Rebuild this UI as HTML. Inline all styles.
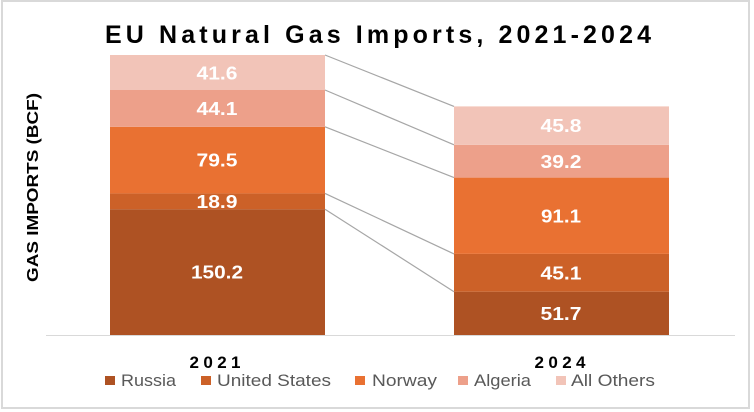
<!DOCTYPE html>
<html>
<head>
<meta charset="utf-8">
<style>
  html,body{margin:0;padding:0;background:#ffffff;}
  svg{display:block;}
  text{font-family:"Liberation Sans", Arial, sans-serif;}
</style>
</head>
<body>
<svg width="754" height="412" viewBox="0 0 754 412" xmlns="http://www.w3.org/2000/svg">
  <rect x="0" y="0" width="754" height="412" fill="#ffffff"/>
  <rect x="2" y="1" width="747" height="407" fill="#ffffff" stroke="#d9d9d9" stroke-width="2"/>

  <!-- Title -->
  <text x="105" y="43" font-size="25" font-weight="bold" fill="#000000" textLength="546" lengthAdjust="spacing">EU Natural Gas Imports, 2021-2024</text>

  <!-- Y axis label -->
  <text transform="translate(38,187.5) rotate(-90)" text-anchor="middle" font-size="15.5" font-weight="bold" fill="#000000" textLength="189" lengthAdjust="spacingAndGlyphs">GAS IMPORTS (BCF)</text>

  <!-- Connector lines -->
  <g stroke="#a6a6a6" stroke-width="1.2" fill="none">
    <line x1="325" y1="55" x2="454" y2="106.4"/>
    <line x1="325" y1="90" x2="454" y2="144.8"/>
    <line x1="325" y1="126.8" x2="454" y2="177.6"/>
    <line x1="325" y1="193.4" x2="454" y2="253.9"/>
    <line x1="325" y1="209.2" x2="454" y2="291.7"/>
  </g>

  <!-- 2021 bar -->
  <rect x="110" y="209.2" width="215" height="125.8" fill="#ae5223"/>
  <rect x="110" y="193.4" width="215" height="15.8" fill="#cc6128"/>
  <rect x="110" y="126.8" width="215" height="66.6" fill="#e97132"/>
  <rect x="110" y="90" width="215" height="36.8" fill="#eda08a"/>
  <rect x="110" y="55" width="215" height="35" fill="#f2c4b8"/>

  <!-- 2024 bar -->
  <rect x="454" y="291.7" width="215" height="43.3" fill="#ae5223"/>
  <rect x="454" y="253.9" width="215" height="37.8" fill="#cc6128"/>
  <rect x="454" y="177.6" width="215" height="76.3" fill="#e97132"/>
  <rect x="454" y="144.8" width="215" height="32.8" fill="#eda08a"/>
  <rect x="454" y="106.4" width="215" height="38.4" fill="#f2c4b8"/>

  <!-- Axis line -->
  <line x1="46" y1="335.5" x2="735" y2="335.5" stroke="#d9d9d9" stroke-width="1"/>

  <!-- Data labels -->
  <g font-size="18.5" font-weight="bold" fill="#ffffff" text-anchor="middle">
    <text x="217" y="79.5" textLength="41" lengthAdjust="spacingAndGlyphs">41.6</text>
    <text x="217" y="115" textLength="41" lengthAdjust="spacingAndGlyphs">44.1</text>
    <text x="217" y="166.7" textLength="41" lengthAdjust="spacingAndGlyphs">79.5</text>
    <text x="217" y="208" textLength="41" lengthAdjust="spacingAndGlyphs">18.9</text>
    <text x="217" y="278.7" textLength="52" lengthAdjust="spacingAndGlyphs">150.2</text>

    <text x="561" y="132.2" textLength="41" lengthAdjust="spacingAndGlyphs">45.8</text>
    <text x="561" y="167.8" textLength="41" lengthAdjust="spacingAndGlyphs">39.2</text>
    <text x="561" y="222.4" textLength="40" lengthAdjust="spacingAndGlyphs">91.1</text>
    <text x="561" y="279.4" textLength="41" lengthAdjust="spacingAndGlyphs">45.1</text>
    <text x="561" y="320" textLength="41" lengthAdjust="spacingAndGlyphs">51.7</text>
  </g>

  <!-- Category labels -->
  <g font-size="17" font-weight="bold" fill="#000000" text-anchor="middle">
    <text x="215" y="368" textLength="51" lengthAdjust="spacing">2021</text>
    <text x="560" y="368" textLength="51" lengthAdjust="spacing">2024</text>
  </g>

  <!-- Legend -->
  <rect x="105" y="376" width="10" height="9" fill="#ae5223"/>
  <text x="121" y="386" font-size="16.5" fill="#595959" textLength="55" lengthAdjust="spacingAndGlyphs">Russia</text>
  <rect x="201" y="376" width="10" height="9" fill="#cc6128"/>
  <text x="217" y="386" font-size="16.5" fill="#595959" textLength="114" lengthAdjust="spacingAndGlyphs">United States</text>
  <rect x="355" y="376" width="10" height="9" fill="#e97132"/>
  <text x="372" y="386" font-size="16.5" fill="#595959" textLength="65" lengthAdjust="spacingAndGlyphs">Norway</text>
  <rect x="458" y="376" width="10" height="9" fill="#eda08a"/>
  <text x="474" y="386" font-size="16.5" fill="#595959" textLength="57" lengthAdjust="spacingAndGlyphs">Algeria</text>
  <rect x="556" y="376" width="10" height="9" fill="#f2c4b8"/>
  <text x="571" y="386" font-size="16.5" fill="#595959" textLength="84" lengthAdjust="spacingAndGlyphs">All Others</text>
</svg>
</body>
</html>
